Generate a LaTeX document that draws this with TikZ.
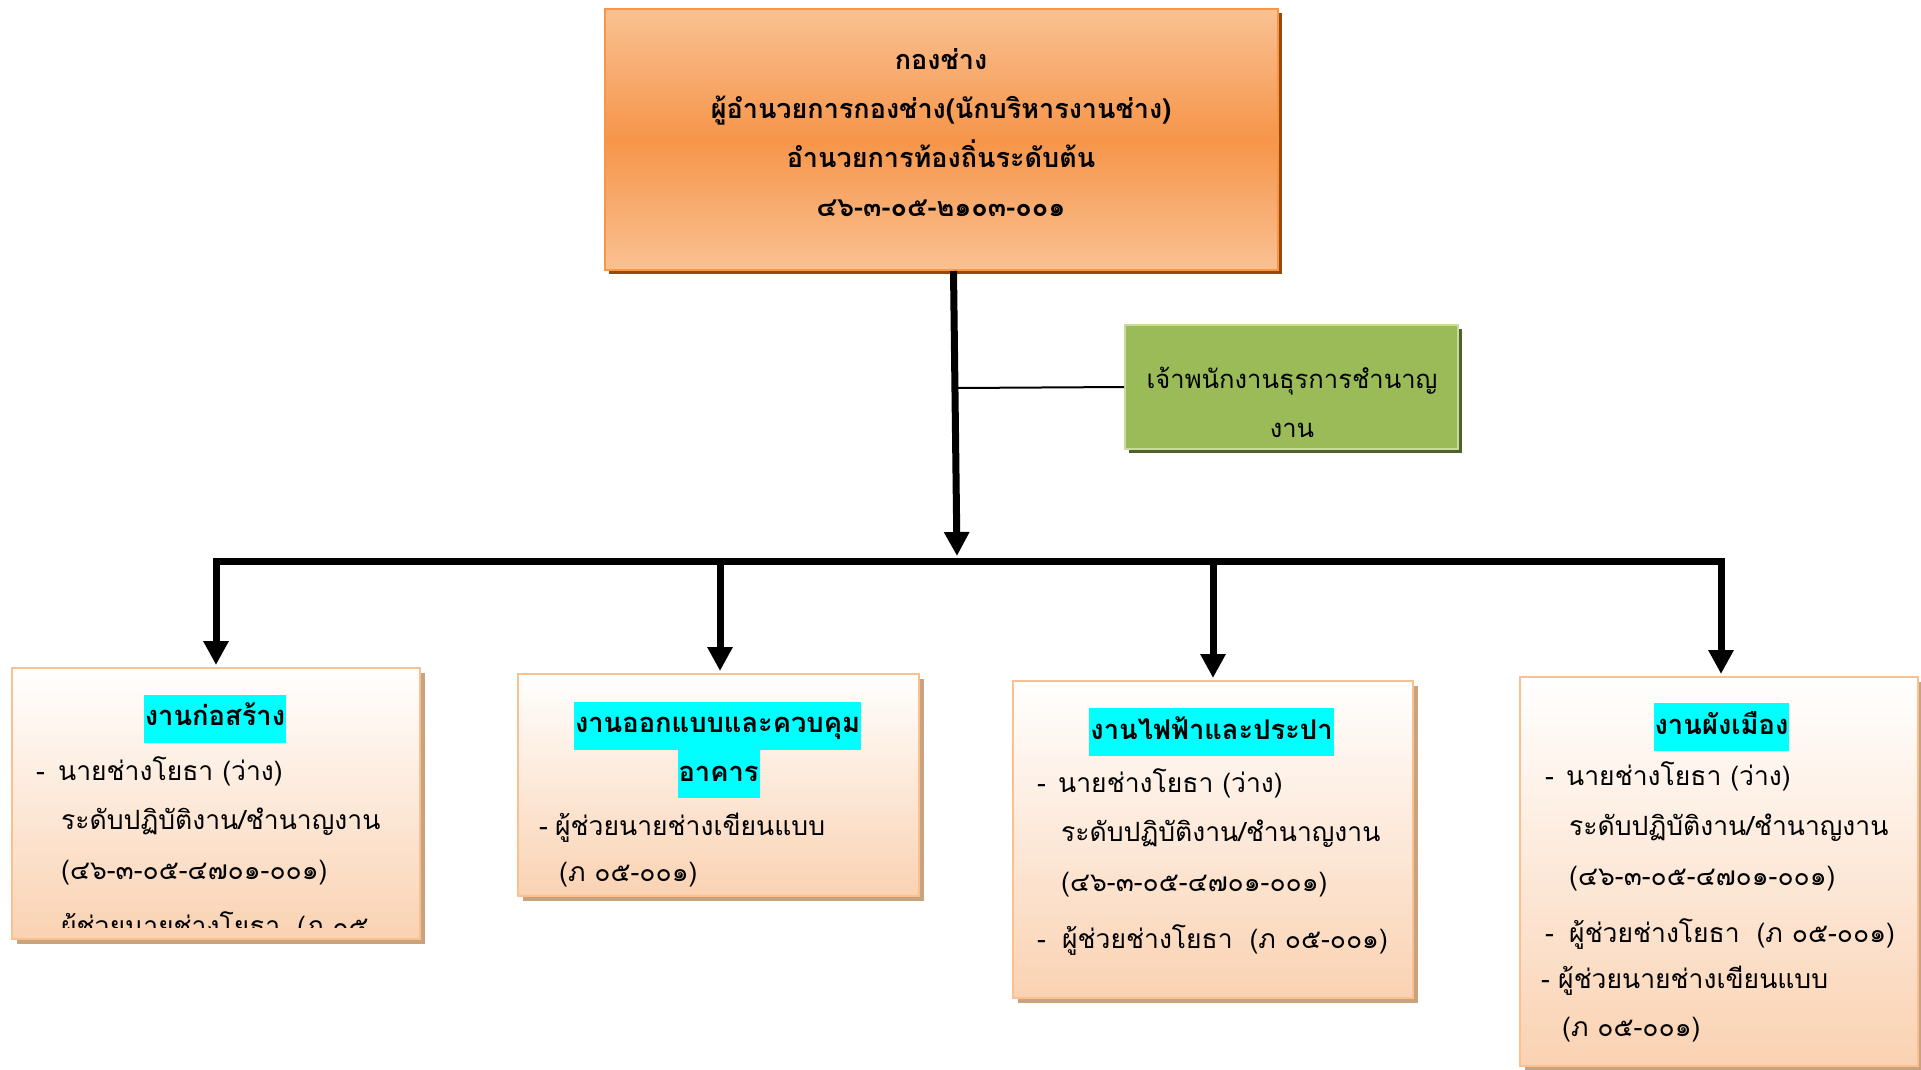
\documentclass[tikz,border=0pt]{standalone}
\usepackage{fontspec}
\setmainfont[Script=Thai]{Loma}
\usetikzlibrary{arrows.meta,shadows}
\definecolor{orLight}{HTML}{F9C192}
\definecolor{orMid}{HTML}{F6954A}
\definecolor{orBorder}{HTML}{F79646}
\definecolor{orShadow}{HTML}{984807}
\definecolor{grFill}{HTML}{9BBB59}
\definecolor{grBorder}{HTML}{C8DAA0}
\definecolor{grShadow}{HTML}{4F6228}
\definecolor{pkBottom}{HTML}{FAD2B2}
\definecolor{pkBorder}{HTML}{FAC090}
\definecolor{pkShadow}{HTML}{C9A27E}
\definecolor{hlCyan}{HTML}{00FFFF}
\tikzset{
  topbox/.style={draw=orBorder, line width=2pt, inner sep=0pt,
    top color=orLight, bottom color=orLight, middle color=orMid,
    drop shadow={shadow xshift=4pt, shadow yshift=-4pt, fill=orShadow, opacity=1}},
  greenbox/.style={draw=grBorder, line width=2pt, inner sep=0pt, fill=grFill,
    drop shadow={shadow xshift=4pt, shadow yshift=-4pt, fill=grShadow, opacity=1}},
  unitbox/.style={draw=pkBorder, line width=2pt, inner sep=0pt,
    top color=white, bottom color=pkBottom,
    drop shadow={shadow xshift=5pt, shadow yshift=-5pt, fill=pkShadow, opacity=1}},
  toptxt/.style={font=\fontsize{27}{32}\selectfont\bfseries, inner sep=0pt, anchor=base},
  grtxt/.style={font=\fontsize{25.6}{30}\selectfont, inner sep=0pt, anchor=base},
  bodytxt/.style={font=\fontsize{26.5}{31}\selectfont, inner sep=0pt, anchor=base west},
  hl/.style={fill=hlCyan, inner xsep=1pt, inner ysep=0pt, minimum height=48pt,
    text height=20pt, text depth=6pt, font=\fontsize{27.3}{32}\selectfont\bfseries},
  bigarrow/.style={line width=7pt, -{Triangle[width=24pt,length=24pt]}},
  bar/.style={line width=7pt, line cap=rect},
  thinline/.style={line width=2pt}
}
\begin{document}
\begin{tikzpicture}[x=1pt,y=-1pt]
\useasboundingbox (0,0) rectangle (1921,1069);

% boxes
\node[topbox, minimum width=673pt, minimum height=261pt] (top) at (941.5,139.5) {};
\node[greenbox, minimum width=333pt, minimum height=124pt] (green) at (1291.5,387) {};
\node[unitbox, minimum width=408pt, minimum height=271pt] (b1) at (216,803.5) {};
\node[unitbox, minimum width=401pt, minimum height=222pt] (b2) at (718.5,785) {};
\node[unitbox, minimum width=400pt, minimum height=317pt] (b3) at (1213,839.5) {};
\node[unitbox, minimum width=398pt, minimum height=389pt] (b4) at (1719,871.5) {};

% connectors
\coordinate (hub) at (957,561);
\coordinate (tee) at (956,388);
\coordinate (j1) at (216,561);
\coordinate (j2) at (720,561);
\coordinate (j3) at (1213,561);
\coordinate (j4) at (1721,561);
\draw[bigarrow] ([xshift=12pt]top.south) -- ([yshift=5pt]hub);
\draw[thinline] (tee) -- (green.west);
\draw[bar] (j1) -- (j4);
\draw[bigarrow] (j1) -- ([yshift=2pt]b1.north);
\draw[bigarrow] (j2) -- ([yshift=2pt]b2.north -| j2);
\draw[bigarrow] (j3) -- ([yshift=2pt]b3.north);
\draw[bigarrow] (j4) -- ([yshift=2pt]b4.north -| j4);

% top box text
\node[toptxt] (t1) at (941,69) {กองช่าง};
\node[toptxt] (t2) at (941,118) {ผู้อำนวยการกองช่าง(นักบริหารงานช่าง)};
\node[toptxt] (t3) at (941,167) {อำนวยการท้องถิ่นระดับต้น};
\node[toptxt] (t4) at (941,216) {๔๖-๓-๐๕-๒๑๐๓-๐๐๑};

% green box text
\node[grtxt] (g1) at (1292,388) {เจ้าพนักงานธุรการชำนาญ};
\node[grtxt] (g2) at (1292,437) {งาน};

% box 1
\node[hl] (h1) at (215,718.5) {งานก่อสร้าง};
\node[bodytxt] (b1d1) at (36,780) {-};
\node[bodytxt] (b1l1) at (58,780) {นายช่างโยธา (ว่าง)};
\node[bodytxt] (b1l2) at (61,829) {ระดับปฏิบัติงาน/ชำนาญงาน};
\node[bodytxt] (b1l3) at (61,879) {(๔๖-๓-๐๕-๔๗๐๑-๐๐๑)};
\begin{scope}
\clip (12,668) rectangle (420,927);
\node[bodytxt] (b1l4) at (61,935) {ผู้ช่วยนายช่างโยธา\hspace{0.3em} (ภ ๐๕};
\end{scope}

% box 2
\node[hl] (h2a) at (717.5,725.5) {งานออกแบบและควบคุม};
\node[hl] (h2b) at (718.5,774) {อาคาร};
\node[bodytxt] (b2d1) at (539,835) {-};
\node[bodytxt] (b2l1) at (555,835) {ผู้ช่วยนายช่างเขียนแบบ};
\node[bodytxt] (b2l2) at (559,881) {(ภ ๐๕-๐๐๑)};

% box 3
\node[hl] (h3) at (1211.5,732) {งานไฟฟ้าและประปา};
\node[bodytxt] (b3d1) at (1037,792) {-};
\node[bodytxt] (b3l1) at (1058,792) {นายช่างโยธา (ว่าง)};
\node[bodytxt] (b3l2) at (1061,841) {ระดับปฏิบัติงาน/ชำนาญงาน};
\node[bodytxt] (b3l3) at (1061,891) {(๔๖-๓-๐๕-๔๗๐๑-๐๐๑)};
\node[bodytxt] (b3d2) at (1037,948) {-};
\node[bodytxt] (b3l4) at (1062,948) {ผู้ช่วยช่างโยธา\hspace{0.3em} (ภ ๐๕-๐๐๑)};

% box 4
\node[hl] (h4) at (1721.5,727) {งานผังเมือง};
\node[bodytxt] (b4d1) at (1545,785) {-};
\node[bodytxt] (b4l1) at (1566,785) {นายช่างโยธา (ว่าง)};
\node[bodytxt] (b4l2) at (1569,835) {ระดับปฏิบัติงาน/ชำนาญงาน};
\node[bodytxt] (b4l3) at (1569,885) {(๔๖-๓-๐๕-๔๗๐๑-๐๐๑)};
\node[bodytxt] (b4d2) at (1545,942) {-};
\node[bodytxt] (b4l4) at (1569,942) {ผู้ช่วยช่างโยธา\hspace{0.3em} (ภ ๐๕-๐๐๑)};
\node[bodytxt] (b4d3) at (1541,988) {-};
\node[bodytxt] (b4l5) at (1558,988) {ผู้ช่วยนายช่างเขียนแบบ};
\node[bodytxt] (b4l6) at (1562,1036) {(ภ ๐๕-๐๐๑)};
\end{tikzpicture}
\end{document}
